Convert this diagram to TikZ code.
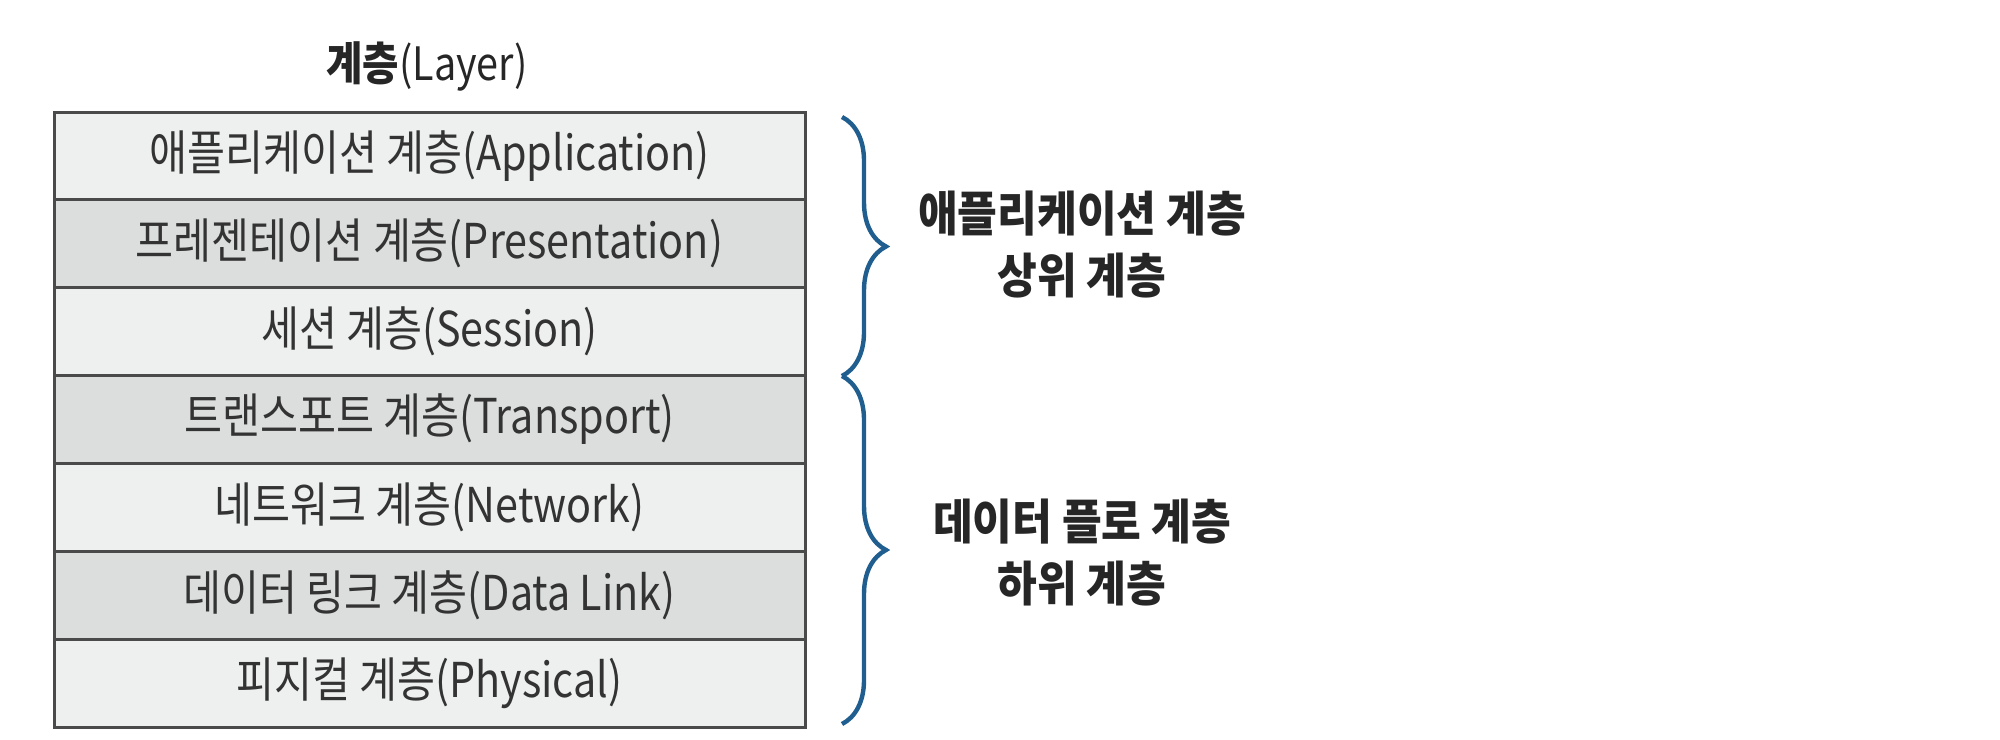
\documentclass[tikz,border=0pt]{standalone}
\usepackage{fontspec}
\setmainfont{Noto Sans CJK KR}[FakeStretch=0.86]
\newfontfamily\krlabel{Noto Sans CJK KR}[FakeStretch=0.9]
\usetikzlibrary{decorations.pathreplacing}
\definecolor{lightrow}{HTML}{EEEFEF}
\definecolor{darkrow}{HTML}{DCDDDD}
\definecolor{rowline}{HTML}{4A4A4A}
\definecolor{bracecol}{HTML}{1F5E8E}
\definecolor{txt}{HTML}{333333}
\tikzset{
  layerrow/.style={draw=rowline, line width=1.5pt, outer sep=0pt, minimum width=375.5pt, minimum height=43.93pt, anchor=north, inner sep=0pt, font=\fontsize{24}{28}\selectfont, text=txt},
  lightfill/.style={fill=lightrow},
  darkfill/.style={fill=darkrow},
  bracestyle/.style={draw=bracecol, line width=2.2pt, decorate, decoration={brace, amplitude=22pt, aspect=0.5}},
  sidelabel/.style={align=center, font=\krlabel\fontsize{24}{31}\selectfont\bfseries, text=black!85}
}
\begin{document}
\begin{tikzpicture}[x=0.5pt, y=-0.5pt]
\useasboundingbox (0,0) rectangle (2000,739);
\node[font=\fontsize{23}{26}\selectfont, text=black!85] (title) at (427,66) {\textbf{계층}(Layer)};
\node[layerrow, lightfill] (r1) at (429.5,112) {애플리케이션 계층(Application)};
\node[layerrow, darkfill] (r2) at (r1.south) {프레젠테이션 계층(Presentation)};
\node[layerrow, lightfill] (r3) at (r2.south) {세션 계층(Session)};
\node[layerrow, darkfill] (r4) at (r3.south) {트랜스포트 계층(Transport)};
\node[layerrow, lightfill] (r5) at (r4.south) {네트워크 계층(Network)};
\node[layerrow, darkfill] (r6) at (r5.south) {데이터 링크 계층(Data Link)};
\node[layerrow, lightfill] (r7) at (r6.south) {피지컬 계층(Physical)};
\coordinate (b1) at (842,117);
\coordinate (b2) at (842,376);
\coordinate (b3) at (842,724);
\draw[bracestyle] (b1) -- (b2);
\draw[bracestyle] (b2) -- (b3);
\node[sidelabel] (upper) at (1082,245) {애플리케이션 계층\\상위 계층};
\node[sidelabel] (lower) at (1082,553) {데이터 플로 계층\\하위 계층};
\end{tikzpicture}
\end{document}
